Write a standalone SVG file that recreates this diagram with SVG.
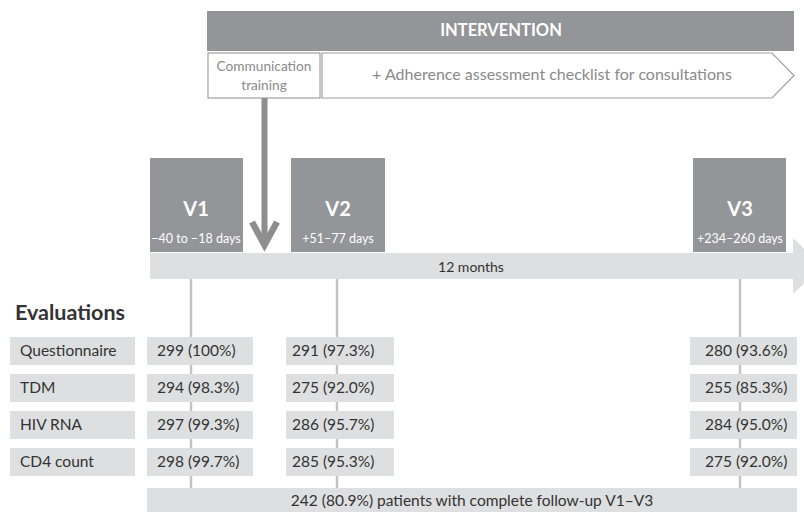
<svg xmlns="http://www.w3.org/2000/svg" width="804" height="512" viewBox="0 0 804 512">
<style>
text{font-family:Lato,"Open Sans","Liberation Sans",sans-serif}
.dk{fill:#939598}
.lt{fill:#dedfe0}
.v{fill:#fff;font-weight:bold;font-size:20px;text-anchor:middle}
.d{fill:#fff;font-size:12.5px;text-anchor:middle}
.t{fill:#333;font-size:15.5px}
.vl{stroke:#c4c4c4;stroke-width:2.5;fill:none}
</style>
<rect width="804" height="512" fill="#fff"/>
<g id="intervention">
<rect class="dk" x="207" y="11" width="587" height="40"/>
<text x="501" y="36" fill="#fff" font-size="16.5" font-weight="bold" text-anchor="middle">INTERVENTION</text>
</g>
<g id="communication-training">
<rect x="208" y="53" width="112" height="45" fill="#fff" stroke="#a0a0a0" stroke-width="1.2"/>
<text x="264" y="71" fill="#8a8a8a" font-size="13.7" text-anchor="middle">Communication</text>
<text x="264" y="90" fill="#8a8a8a" font-size="13.7" text-anchor="middle">training</text>
</g>
<g id="adherence-checklist">
<polygon points="322,53 772,53 794,75.5 772,98 322,98" fill="#fff" stroke="#a0a0a0" stroke-width="1.2"/>
<text x="552" y="80" fill="#8a8a8a" font-size="16" text-anchor="middle">+ Adherence assessment checklist for consultations</text>
</g>
<g id="timeline">
<polygon class="lt" points="150,253 793,253 793,238 822,266 793,294 793,279 150,279"/>
<text x="471" y="272" fill="#333" font-size="14" text-anchor="middle">12 months</text>
</g>
<g id="connectors">
<line class="vl" x1="191" y1="279" x2="191" y2="488"/>
<line class="vl" x1="337" y1="279" x2="337" y2="488"/>
<line class="vl" x1="740" y1="279" x2="740" y2="488"/>
<line x1="264.5" y1="98" x2="264.5" y2="242" stroke="#8e8e8e" stroke-width="6"/>
<polyline points="252,222 264.5,245 277,222" fill="none" stroke="#8e8e8e" stroke-width="6.5" stroke-linejoin="miter" stroke-miterlimit="10"/>
</g>
<g id="V1">
<rect class="dk" x="150" y="158" width="93" height="94"/>
<text class="v" x="196" y="216">V1</text>
<text class="d" x="196" y="243">−40 to −18 days</text>
</g>
<g id="V2">
<rect class="dk" x="291" y="158" width="94" height="94"/>
<text class="v" x="338" y="216">V2</text>
<text class="d" x="338" y="243">+51–77 days</text>
</g>
<g id="V3">
<rect class="dk" x="693" y="158" width="93" height="94"/>
<text class="v" x="740" y="216">V3</text>
<text class="d" x="740" y="243">+234–260 days</text>
</g>
<g id="evaluations">
<text x="15" y="320" fill="#333" font-size="21.5" font-weight="bold">Evaluations</text>
</g>
<g id="row-questionnaire">
<rect class="lt" x="10" y="337" width="125" height="28"/>
<text class="t" x="20" y="356">Questionnaire</text>
<rect class="lt" x="147" y="337" width="106" height="28"/>
<text class="t" x="157" y="356">299 (100%)</text>
<rect class="lt" x="286" y="337" width="108" height="28"/>
<text class="t" x="292" y="356">291 (97.3%)</text>
<rect class="lt" x="690" y="337" width="107" height="28"/>
<text class="t" x="705" y="356">280 (93.6%)</text>
</g>
<g id="row-tdm">
<rect class="lt" x="10" y="374" width="125" height="28"/>
<text class="t" x="20" y="393">TDM</text>
<rect class="lt" x="147" y="374" width="106" height="28"/>
<text class="t" x="157" y="393">294 (98.3%)</text>
<rect class="lt" x="286" y="374" width="108" height="28"/>
<text class="t" x="292" y="393">275 (92.0%)</text>
<rect class="lt" x="690" y="374" width="107" height="28"/>
<text class="t" x="705" y="393">255 (85.3%)</text>
</g>
<g id="row-hiv-rna">
<rect class="lt" x="10" y="411" width="125" height="28"/>
<text class="t" x="20" y="430">HIV RNA</text>
<rect class="lt" x="147" y="411" width="106" height="28"/>
<text class="t" x="157" y="430">297 (99.3%)</text>
<rect class="lt" x="286" y="411" width="108" height="28"/>
<text class="t" x="292" y="430">286 (95.7%)</text>
<rect class="lt" x="690" y="411" width="107" height="28"/>
<text class="t" x="705" y="430">284 (95.0%)</text>
</g>
<g id="row-cd4">
<rect class="lt" x="10" y="448" width="125" height="28"/>
<text class="t" x="20" y="467">CD4 count</text>
<rect class="lt" x="147" y="448" width="106" height="28"/>
<text class="t" x="157" y="467">298 (99.7%)</text>
<rect class="lt" x="286" y="448" width="108" height="28"/>
<text class="t" x="292" y="467">285 (95.3%)</text>
<rect class="lt" x="690" y="448" width="107" height="28"/>
<text class="t" x="705" y="467">275 (92.0%)</text>
</g>
<g id="complete-follow-up">
<rect class="lt" x="147" y="488" width="650" height="24"/>
<text class="t" x="472" y="506" text-anchor="middle">242 (80.9%) patients with complete follow-up V1–V3</text>
</g>
</svg>
